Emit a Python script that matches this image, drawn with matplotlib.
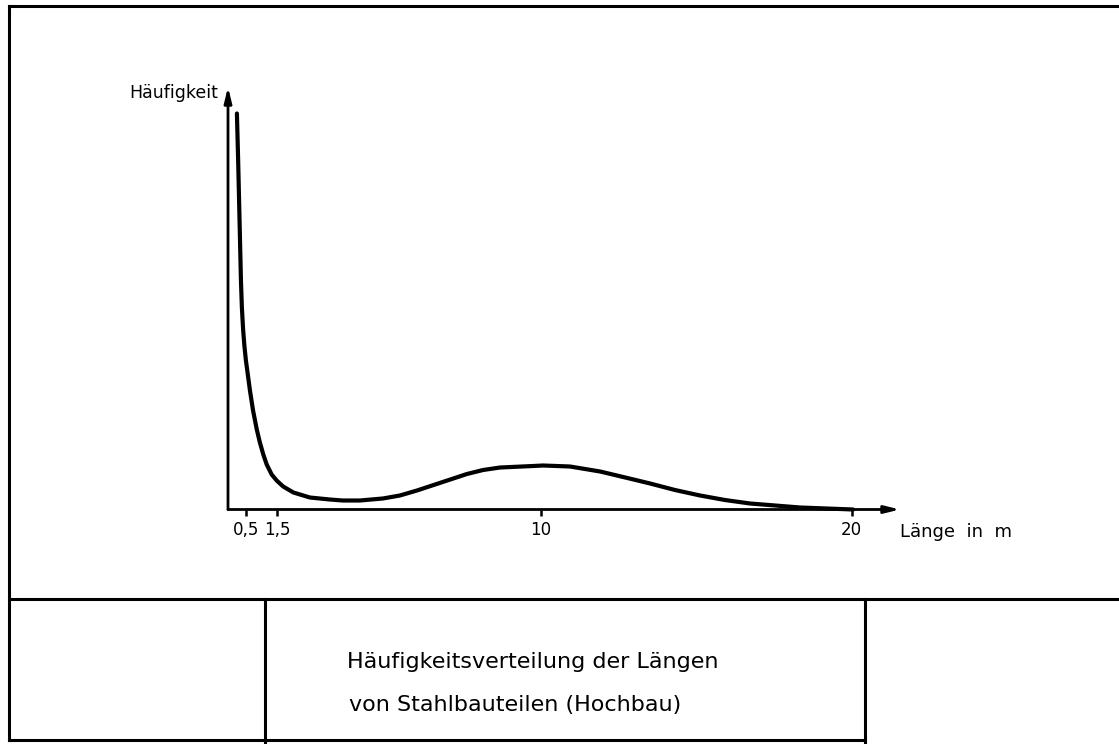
import matplotlib
matplotlib.use('Agg')
import matplotlib.pyplot as plt
from matplotlib.lines import Line2D

# Data, length in m, frequency in arbitrary units
length_m = [0.20, 0.24, 0.27, 0.30, 0.33, 0.36, 0.40, 0.44, 0.49, 0.56, 0.62,
            0.72, 0.84, 0.94, 1.05, 1.16, 1.32, 1.48, 1.69, 2.02, 2.55, 3.19,
            3.61, 4.16, 4.90, 5.45, 6.00, 6.78, 7.61, 8.13, 8.68, 9.74, 10.06,
            10.93, 11.90, 12.71, 13.51, 14.31, 15.12, 15.92, 16.73, 17.54,
            18.34, 20.05]
frequency = [3.96, 3.49, 3.09, 2.69, 2.29, 2.02, 1.80, 1.64, 1.49, 1.33, 1.19,
             0.99, 0.80, 0.67, 0.55, 0.45, 0.35, 0.29, 0.23, 0.17, 0.12, 0.10,
             0.09, 0.09, 0.11, 0.14, 0.19, 0.27, 0.355, 0.395, 0.42, 0.435, 0.44,
             0.43, 0.38, 0.32, 0.26, 0.195, 0.14, 0.095, 0.06, 0.04,
             0.02, 0.0]
tick_pos = [0.5, 1.5, 10, 20]
tick_labels = ['0,5', '1,5', '10', '20']
title_lines = ['Häufigkeitsverteilung der Längen', 'von Stahlbauteilen (Hochbau)']

W, H = 1119, 744
fig = plt.figure(figsize=(W / 100, H / 100), dpi=100)
fig.patch.set_facecolor('white')

def px(x, y):
    # pixel position (from top-left) -> figure fraction
    return x / W, 1 - y / H

#Frame around the drawing
def frame_line(x0, y0, x1, y1, lw=2.2):
    a, b = px(x0, y0)
    c, d = px(x1, y1)
    fig.add_artist(Line2D([a, c], [b, d], color='black', lw=lw,
                          transform=fig.transFigure))

frame_line(9, 6, W, 6)
frame_line(9, 6, 9, 740)
frame_line(9, 740, 865, 740)
frame_line(9, 599, W, 599)
frame_line(265, 599, 265, 744)
frame_line(865, 599, 865, 744)

#Plot area
x_left, x_right = 228, 900
y_top, y_base = 87, 509.5
ax = fig.add_axes([x_left / W, (H - y_base) / H,
                   (x_right - x_left) / W, (y_base - y_top) / H])
ax.set_xlim(-0.087, 21.56)
ax.set_ylim(0, 4.225)
ax.set_facecolor('none')
for s in ax.spines.values():
    s.set_visible(False)

ax.plot(length_m, frequency, color='black', lw=3.0, solid_capstyle='round',
        solid_joinstyle='round', clip_on=False)

# axes with arrow heads
arrow = dict(arrowstyle='-|>,head_length=0.9,head_width=0.22', lw=2.0,
             color='black', shrinkA=0, shrinkB=0)
ax.annotate('', xy=(0, 1), xytext=(0, 0), xycoords='axes fraction',
            arrowprops=arrow)
ax.annotate('', xy=(1, 0), xytext=(0, 0), xycoords='axes fraction',
            arrowprops=arrow)

ax.set_yticks([])
ax.set_xticks(tick_pos)
ax.set_xticklabels(tick_labels, fontsize=12)
ax.tick_params(axis='x', direction='out', length=4, width=1.8, pad=4)

fig.text(*px(218, 93), 'Häufigkeit', fontsize=12.5, ha='right', va='center')
fig.text(*px(900, 532), 'Länge  in  m', fontsize=13, ha='left', va='center')

fig.text(*px(347, 662), title_lines[0], fontsize=16, ha='left', va='center')
fig.text(*px(349, 705), title_lines[1], fontsize=16, ha='left', va='center')

fig.savefig('out.png', dpi=100)
